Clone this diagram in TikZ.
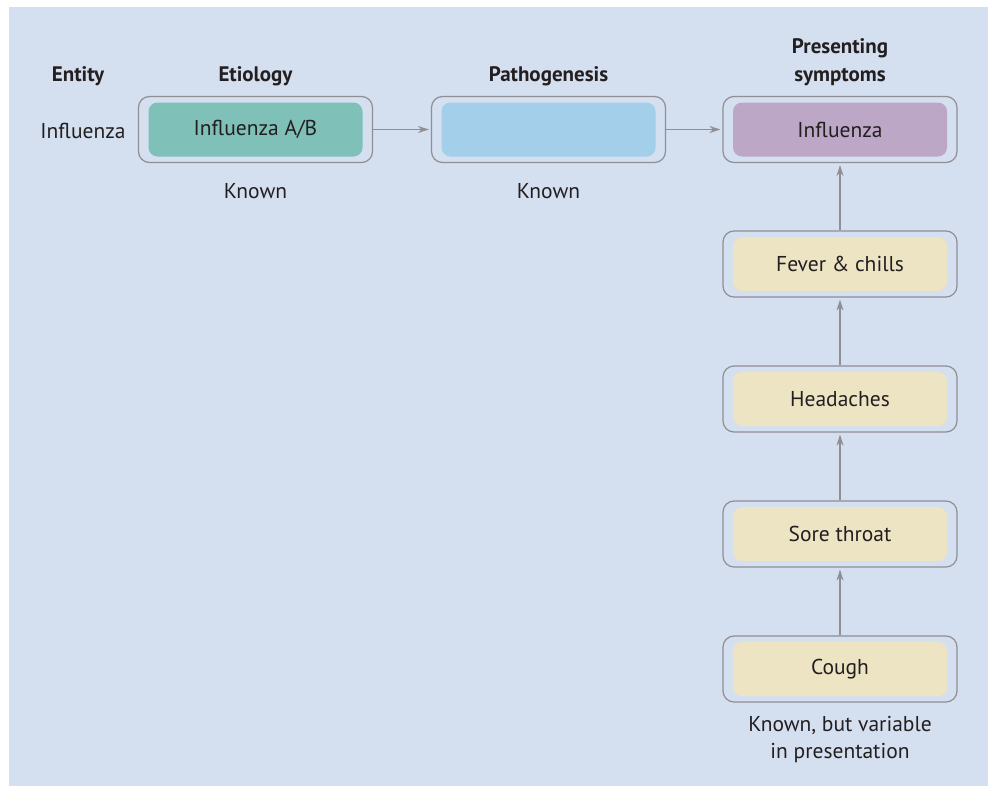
\documentclass[tikz,border=0pt]{standalone}
\usepackage{fontspec}
\setmainfont{PT Sans}
\usetikzlibrary{arrows.meta}
\definecolor{bgc}{HTML}{D4DFF0}
\definecolor{tealc}{HTML}{7FC1B8}
\definecolor{bluec}{HTML}{A4CFEA}
\definecolor{purplec}{HTML}{BDA7C6}
\definecolor{beigec}{HTML}{EDE4C4}
\definecolor{linec}{HTML}{8F8F94}
\definecolor{txtc}{HTML}{231F20}
\tikzset{
  x=1pt, y=1pt,
  outerbox/.style={draw=linec, line width=1.2pt, fill=bgc, rounded corners=11pt,
    minimum width=234pt, minimum height=66pt, inner sep=0pt},
  innerbox/.style={rounded corners=9pt, minimum width=214pt, minimum height=54pt,
    inner sep=0pt, text=txtc, font=\fontsize{21.5}{27}\selectfont},
  lbl/.style={text=txtc, font=\fontsize{21.5}{27}\selectfont, align=center, inner sep=0pt},
  hdr/.style={text=txtc, font=\fontsize{21}{28}\selectfont\bfseries, align=center, inner sep=0pt},
  conn/.style={draw=linec, line width=1.2pt, -{Stealth[length=11pt,width=7pt]}, shorten >=2pt}
}
\begin{document}
\begin{tikzpicture}
\useasboundingbox (0,0) rectangle (991,-795);
\fill[bgc] (9,-7) rectangle (988,-786);

% headers
\node[hdr] (hEnt) at (78,-76) {Entity};
\node[hdr] (hEti) at (255.5,-76) {Etiology};
\node[hdr] (hPat) at (548.5,-76) {Pathogenesis};
\node[hdr] (hPre) at (840,-62) {Presenting\\symptoms};

\node[lbl] (ent) at (83,-131) {Influenza};

% top row
\node[outerbox] (eti) at (255.5,-129.5) {};
\node[innerbox, fill=tealc] (etiIn) at (eti) {Influenza A/B};
\node[outerbox] (pat) at (548.5,-129.5) {};
\node[innerbox, fill=bluec] (patIn) at (pat) {};
\node[outerbox] (pre) at (840,-129.5) {};
\node[innerbox, fill=purplec] (preIn) at (pre) {Influenza};

\node[lbl] (kEti) at (255.5,-191) {Known};
\node[lbl] (kPat) at (548.5,-191) {Known};

% symptoms
\node[outerbox] (fev) at (840,-264) {};
\node[innerbox, fill=beigec] (fevIn) at (fev) {Fever \& chills};
\node[outerbox] (hea) at (840,-399) {};
\node[innerbox, fill=beigec] (heaIn) at (hea) {Headaches};
\node[outerbox] (sor) at (840,-534) {};
\node[innerbox, fill=beigec] (sorIn) at (sor) {Sore throat};
\node[outerbox] (cou) at (840,-669) {};
\node[innerbox, fill=beigec] (couIn) at (cou) {Cough};

\node[lbl] (kSym) at (840,-740) {Known, but variable\\in presentation};

% connectors
\draw[conn] (eti.east) -- (pat.west);
\draw[conn] (pat.east) -- (pre.west);
\draw[conn] (cou.north) -- (sor.south);
\draw[conn] (sor.north) -- (hea.south);
\draw[conn] (hea.north) -- (fev.south);
\draw[conn] (fev.north) -- (pre.south);
\end{tikzpicture}
\end{document}
